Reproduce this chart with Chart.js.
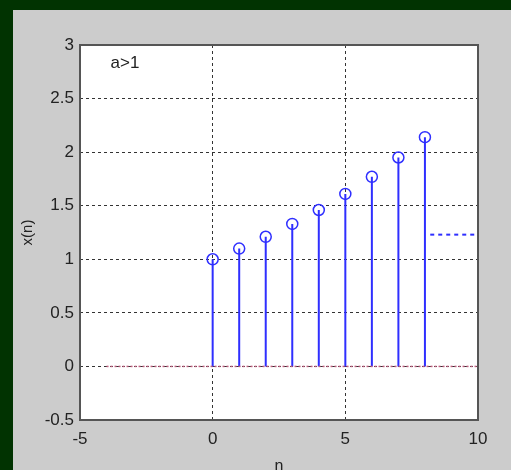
<!DOCTYPE html>
<html lang="en">
<head>
  <meta charset="UTF-8" />
  <title>a>1 stem</title>
  <script src="https://cdn.jsdelivr.net/npm/chart.js"></script>
  <style>
    body { margin: 0; background: #013301; width: 511px; height: 470px; overflow: hidden; }
    #panel { position: absolute; left: 13px; top: 10px; width: 498px; height: 460px; background: #cccccc; }
    canvas { display: block; }
  </style>
</head>
<body>
  <div id="panel"><canvas id="stemChart" width="498" height="460"></canvas></div>

  <script>
    const nValues = [0, 1, 2, 3, 4, 5, 6, 7, 8];
    const xValues = [1, 1.1, 1.21, 1.33, 1.46, 1.61, 1.77, 1.95, 2.14];
    const baseRange = [-4, 10];
    const dotSegment = { x: [8.2, 10], y: 1.23 };
    const xTicks = [-5, 0, 5, 10];
    const yTicks = [-0.5, 0, 0.5, 1, 1.5, 2, 2.5, 3];
    const blue = '#2f2fff';

    // stems as one line with gaps between them
    const stemData = [];
    nValues.forEach((n, i) => {
      stemData.push({ x: n, y: 0 }, { x: n, y: xValues[i] }, { x: n, y: null });
    });

    const boxPlugin = {
      id: 'box',
      beforeDraw(chart) {
        const { ctx, chartArea: a } = chart;
        ctx.save();
        ctx.fillStyle = '#fff';
        ctx.fillRect(a.left, a.top, a.right - a.left, a.bottom - a.top);
        ctx.restore();
      },
      afterDraw(chart) {
        const { ctx, chartArea: a, scales } = chart;
        ctx.save();
        ctx.strokeStyle = '#555';
        ctx.lineWidth = 2;
        ctx.strokeRect(a.left, a.top, a.right - a.left, a.bottom - a.top);
        ctx.fillStyle = '#222';
        ctx.font = '17px Arial, "Liberation Sans", sans-serif';
        ctx.textBaseline = 'middle';
        ctx.fillText('a>1', scales.x.getPixelForValue(-3.85), scales.y.getPixelForValue(2.83));
        ctx.restore();
      }
    };

    const tickFont = { family: 'Arial', size: 17 };

    const ctx = document.getElementById('stemChart').getContext('2d');
    new Chart(ctx, {
      type: 'scatter',
      data: {
        datasets: [
          {
            data: [{ x: baseRange[0], y: 0 }, { x: baseRange[1], y: 0 }],
            showLine: true, borderColor: '#c06080', borderWidth: 1.5,
            borderDash: [2, 2], pointRadius: 0
          },
          {
            data: stemData, showLine: true, spanGaps: false,
            borderColor: blue, borderWidth: 2, pointRadius: 0
          },
          {
            data: nValues.map((n, i) => ({ x: n, y: xValues[i] })),
            showLine: false, pointStyle: 'circle', pointRadius: 5.5,
            borderColor: blue, borderWidth: 1.5, backgroundColor: 'rgba(0,0,0,0)'
          },
          {
            data: dotSegment.x.map(x => ({ x: x, y: dotSegment.y })),
            showLine: true, borderColor: blue, borderWidth: 2,
            borderDash: [4, 4], pointRadius: 0
          }
        ]
      },
      options: {
        responsive: false,
        animation: false,
        layout: { padding: { left: 0, right: 33, top: 35, bottom: 0 } },
        plugins: { legend: { display: false }, tooltip: { enabled: false } },
        scales: {
          x: {
            type: 'linear', min: -5, max: 10,
            afterBuildTicks: s => { s.ticks = xTicks.map(v => ({ value: v })); },
            afterFit: s => { s.height = 50; },
            grid: { color: '#333', lineWidth: 1, drawTicks: false },
            border: { display: false, dash: [3, 3] },
            ticks: { color: '#222', font: tickFont, padding: 9, maxRotation: 0, callback: v => String(v) },
            title: { display: true, text: 'n', color: '#222', font: { family: 'Arial', size: 16 }, padding: { top: 8, bottom: -6 } }
          },
          y: {
            type: 'linear', min: -0.5, max: 3,
            afterBuildTicks: s => { s.ticks = yTicks.map(v => ({ value: v })); },
            afterFit: s => { s.width = 67; },
            grid: { color: '#333', lineWidth: 1, drawTicks: false },
            border: { display: false, dash: [3, 3] },
            ticks: { color: '#222', font: tickFont, padding: 6, callback: v => String(v) },
            title: { display: true, text: 'x(n)', color: '#222', font: { family: 'Arial', size: 15 }, padding: { top: 6, bottom: 0 } }
          }
        }
      },
      plugins: [boxPlugin]
    });
  </script>
</body>
</html>
